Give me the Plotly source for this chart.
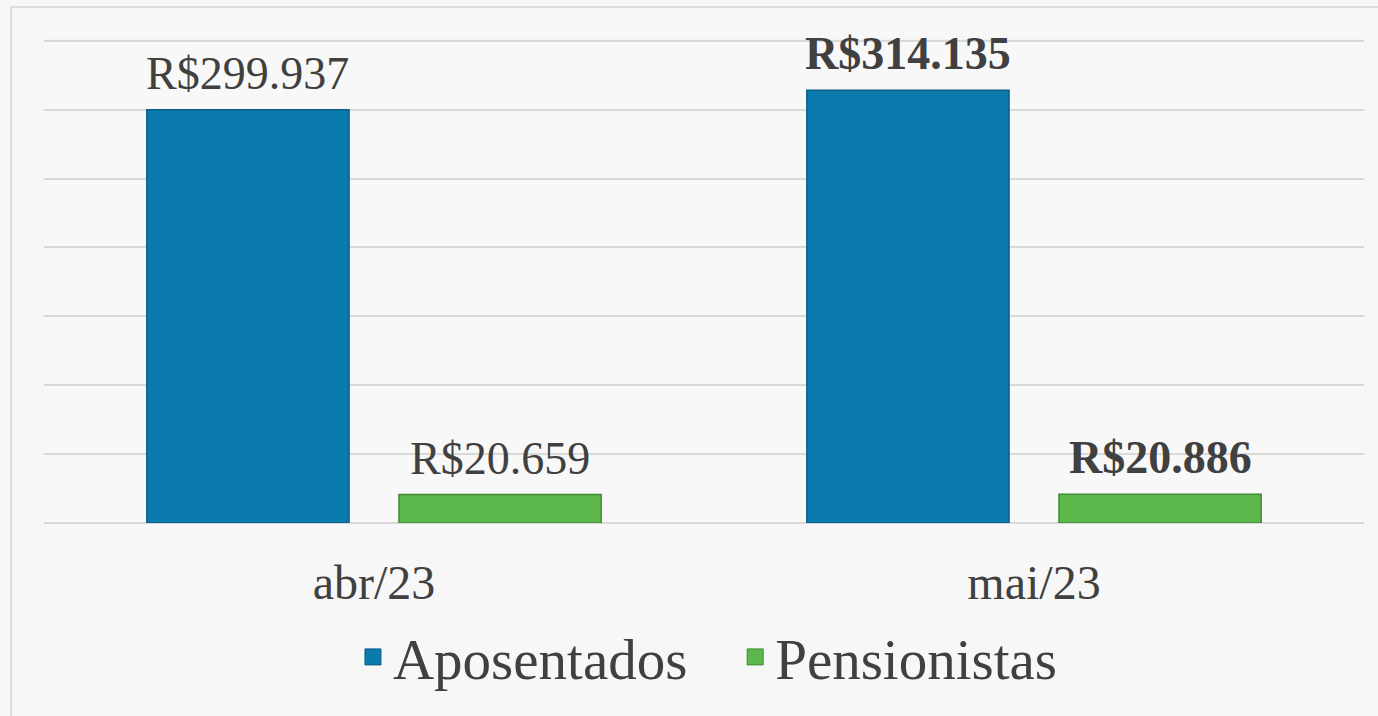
import plotly.graph_objects as go

categories = ["abr/23", "mai/23"]
aposentados = [299937, 314135]
pensionistas = [20659, 20886]
labels_apos = ["R$299.937", "<b>R$314.135</b>"]
labels_pens = ["R$20.659", "<b>R$20.886</b>"]
series_names = ["Aposentados", "Pensionistas"]
gridvals = [50000, 100000, 150000, 200000, 250000, 300000, 350000]

serif = "Liberation Serif, DejaVu Serif, serif"
blue, blue_line = "#0b7bae", "#0a5f86"
green, green_line = "#5cb84a", "#428a35"
bargap = 0.236
bargroupgap = 0.198

fig = go.Figure()
fig.add_trace(go.Bar(
    x=categories, y=aposentados, name=series_names[0], showlegend=False,
    marker=dict(color=blue, line=dict(color=blue_line, width=1.5)),
))
fig.add_trace(go.Bar(
    x=categories, y=pensionistas, name=series_names[1], showlegend=False,
    marker=dict(color=green, line=dict(color=green_line, width=1.5)),
))
# legend entries with larger square swatches
for nm, col, lc, pad in [(series_names[0], blue, blue_line, "\u00a0\u00a0\u00a0"),
                         (series_names[1], green, green_line, "")]:
    fig.add_trace(go.Scatter(
        x=[None], y=[None], mode="markers", name=nm + pad, showlegend=True,
        marker=dict(symbol="square", size=22, color=col, line=dict(color=lc, width=1)),
    ))

# value labels above bars
off = (1 - bargap) / 4
for i in range(len(categories)):
    for vals, labs, sgn in [(aposentados, labels_apos, -1), (pensionistas, labels_pens, 1)]:
        fig.add_annotation(x=i + sgn * off, y=vals[i], text=labs[i], showarrow=False,
                           xanchor="center", yanchor="bottom", yshift=9,
                           font=dict(family=serif, size=46, color="#404040"))

fig.update_layout(
    width=1378, height=716,
    margin=dict(l=44, r=14, t=38, b=193, autoexpand=False),
    paper_bgcolor="#f7f7f7", plot_bgcolor="#f8f8f8",
    barmode="group", bargap=bargap, bargroupgap=bargroupgap,
    font=dict(family=serif, color="#404040"),
    showlegend=True,
    legend=dict(orientation="h", x=0.503, xanchor="center", y=-0.277, yanchor="middle",
                font=dict(family=serif, size=57, color="#404040"),
                bgcolor="rgba(0,0,0,0)", itemwidth=30, itemsizing="trace"),
)
fig.update_xaxes(showgrid=False, showline=False, zeroline=False,
                 ticks="outside", ticklen=17, tickcolor="rgba(0,0,0,0)",
                 tickfont=dict(family=serif, size=48, color="#404040"))
fig.update_yaxes(range=[0, 352000], tickvals=gridvals,
                 showticklabels=False,
                 showgrid=True, gridcolor="#d9d9d9", gridwidth=2,
                 zeroline=True, zerolinecolor="#d9d9d9", zerolinewidth=2)

fig.add_shape(type="line", xref="paper", yref="y", x0=0, x1=1, y0=gridvals[-1], y1=gridvals[-1],
              line=dict(color="#d9d9d9", width=2), layer="below")
fig.add_shape(type="rect", xref="paper", yref="paper",
              x0=-0.025, y0=-0.45, x1=1.1, y1=1.064,
              line=dict(color="#dcdcdc", width=2), fillcolor="rgba(0,0,0,0)", layer="below")

fig.write_html("out.html", config={"displayModeBar": False},
               post_script="document.body.style.margin='0';document.body.style.padding='0';")
